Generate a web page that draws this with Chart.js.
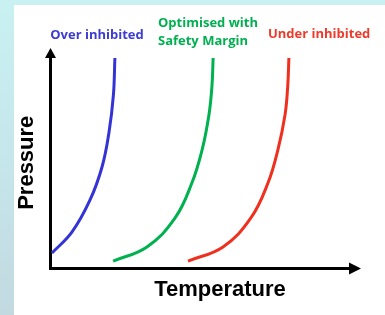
<!DOCTYPE html>
<html>
<head>
<meta charset="utf-8">
<script src="https://cdn.jsdelivr.net/npm/chart.js@4"></script>
<style>
  html, body { margin: 0; padding: 0; }
  body {
    width: 385px; height: 315px; overflow: hidden; position: relative;
    background: linear-gradient(180deg, #c9f1f2 0%, #c5e5ea 55%, #c2d9e0 100%);
  }
  #panel { position: absolute; left: 14px; top: 5px; width: 371px; height: 310px; background: #fff; }
</style>
</head>
<body>
<div id="panel"><canvas id="graficoPressao"></canvas></div>
<script>
// Temperature (x) vs Pressure (y), both on a relative 0-100 scale
const overTemp  = [0.5, 7.2, 13.2, 17.2, 19.5, 21.0, 21.5];
const overPress = [7.3, 17.3, 32.4, 48.0, 64.1, 82.0, 99.5];

const optTemp  = [20.9, 32.2, 41.6, 47.2, 50.6, 52.9, 53.9, 54.3];
const optPress = [3.5, 10.2, 23.9, 40.4, 56.0, 72.6, 86.0, 99.5];

const underTemp  = [45.9, 57.6, 66.9, 72.6, 75.9, 78.3, 79.2, 79.6];
const underPress = [3.5, 10.2, 23.9, 40.4, 56.0, 72.6, 86.0, 99.5];

const seriesNames = ['Over inhibited', ['Optimised with', 'Safety Margin'], 'Under inhibited'];
const xTitle = 'Temperature';
const yTitle = 'Pressure';

const pts = (xs, ys) => xs.map((x, i) => ({ x: x, y: ys[i] }));

const curva = (data, cor) => ({
  data: data,
  showLine: true,
  borderColor: cor,
  backgroundColor: cor,
  borderWidth: 3,
  pointRadius: 0,
  tension: 0.4,
  fill: false,
  clip: false
});

// arrow heads + curve labels + x title
const anotacoes = {
  id: 'anotacoes',
  afterDraw(chart) {
    const { ctx, chartArea: a } = chart;
    ctx.save();
    ctx.fillStyle = '#000';
    ctx.beginPath();
    ctx.moveTo(a.left, a.top - 9);
    ctx.lineTo(a.left - 5.5, a.top + 1);
    ctx.lineTo(a.left + 5.5, a.top + 1);
    ctx.closePath();
    ctx.fill();
    ctx.beginPath();
    ctx.moveTo(a.right + 11, a.bottom);
    ctx.lineTo(a.right - 1, a.bottom - 6);
    ctx.lineTo(a.right - 1, a.bottom + 6);
    ctx.closePath();
    ctx.fill();

    ctx.font = 'bold 13px "Open Sans", "Noto Sans", sans-serif';
    ctx.textBaseline = 'alphabetic';
    ctx.textAlign = 'center';
    ctx.fillStyle = '#3c3cd2';
    ctx.fillText(seriesNames[0], 83, 34);
    ctx.textAlign = 'left';
    ctx.fillStyle = '#00b050';
    ctx.fillText(seriesNames[1][0], 144, 22);
    ctx.fillText(seriesNames[1][1], 144, 40);
    ctx.fillStyle = '#ee3a2a';
    ctx.fillText(seriesNames[2], 254, 33);

    ctx.font = 'bold 22px "Liberation Sans", Arial, sans-serif';
    ctx.textAlign = 'center';
    ctx.fillStyle = '#000';
    ctx.fillText(xTitle, 206, 291);
    ctx.restore();
  }
};

const ctx = document.getElementById('graficoPressao').getContext('2d');

const grafico = new Chart(ctx, {
  type: 'scatter',
  data: {
    datasets: [
      curva(pts(overTemp, overPress), '#3434d6'),
      curva(pts(optTemp, optPress), '#00b14f'),
      curva(pts(underTemp, underPress), '#f0301e')
    ]
  },
  options: {
    responsive: true,
    maintainAspectRatio: false,
    animation: false,
    layout: { padding: { left: 0, right: 35, top: 52, bottom: 46.5 } },
    plugins: { legend: { display: false }, tooltip: { enabled: false } },
    scales: {
      x: {
        type: 'linear', min: 0, max: 100,
        ticks: { display: false },
        grid: { display: false, drawTicks: false },
        border: { color: '#000', width: 3 }
      },
      y: {
        type: 'linear', min: 0, max: 100,
        ticks: { display: false },
        grid: { display: false, drawTicks: false },
        border: { color: '#000', width: 3 },
        title: {
          display: true,
          text: yTitle,
          color: '#000',
          font: { family: '"Liberation Sans", Arial, sans-serif', size: 22, weight: 'bold' },
          padding: { top: 0, bottom: 10.1 }
        }
      }
    }
  },
  plugins: [anotacoes]
});
</script>
</body>
</html>
